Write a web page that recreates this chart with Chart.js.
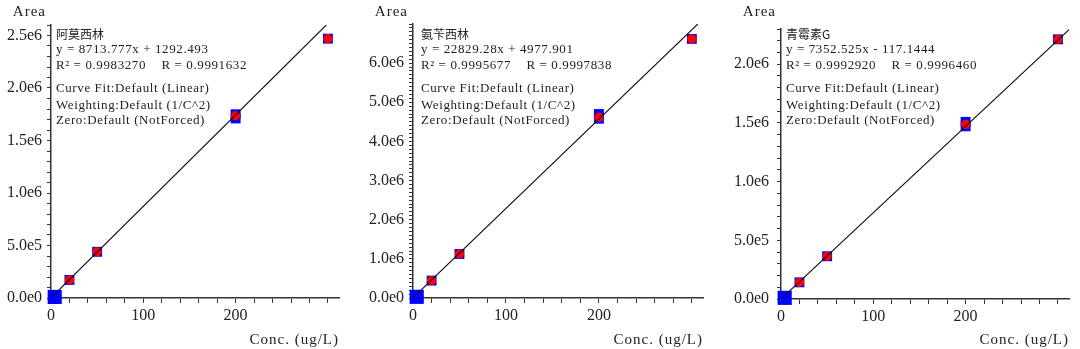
<!DOCTYPE html>
<html lang="zh">
<head>
<meta charset="UTF-8">
<title>标准曲线</title>
<style>
  html, body { margin: 0; padding: 0; background: #fff; }
  .row { display: flex; width: 1080px; height: 349px; }
  .cell { width: 360px; height: 349px; }
  canvas { display: block; }
</style>
</head>
<body>
<div class="row">
  <div class="cell"><canvas id="c1" width="360" height="349"></canvas></div>
  <div class="cell"><canvas id="c2" width="360" height="349"></canvas></div>
  <div class="cell"><canvas id="c3" width="360" height="349"></canvas></div>
</div>
<script src="https://cdn.jsdelivr.net/npm/chart.js@4/dist/chart.umd.min.js"></script>
<script>
// standard levels, ug/L (two injections at 200)
const blueConc = [20, 50, 200, 200, 300];
const redConc = [20, 50, 200, 300];
const blankConc = [4];

// peak areas
const amoxBlue = [1.72e5, 4.40e5, 1.75e6, 1.71e6, 2.47e6];
const amoxRed = [1.72e5, 4.40e5, 1.735e6, 2.47e6];
const amoxBlank = [1.0e4];
const amoxFit = [8713.777, 1292.493];

const ampiBlue = [4.45e5, 1.125e6, 4.70e6, 4.58e6, 6.62e6];
const ampiRed = [4.45e5, 1.125e6, 4.62e6, 6.62e6];
const ampiBlank = [3.0e4];
const ampiFit = [22829.28, 4977.901];

const penBlue = [1.42e5, 3.64e5, 1.509e6, 1.471e6, 2.212e6];
const penRed = [1.42e5, 3.64e5, 1.488e6, 2.212e6];
const penBlank = [1.0e4];
const penFit = [7352.525, -117.1444];

// x labels stop before the last major tick
const xLabels = [0, 100, 200];
const xMax = 312;
const xTickStep = 20;
const yTickStep = 1e5;

const panels = [
  { id: 'c1', name: '阿莫西林', eq: 'y = 8713.777x + 1292.493', r: 'R² = 0.9983270    R = 0.9991632',
    fit: amoxFit, blue: amoxBlue, red: amoxRed, blank: amoxBlank,
    yMax: 2.6e6, yLabelStep: 5e5, left: 51, right: 339, top: 25, bottom: 298, textDx: 5, yPad: 5 },
  { id: 'c2', name: '氨苄西林', eq: 'y = 22829.28x + 4977.901', r: 'R² = 0.9995677    R = 0.9997838',
    fit: ampiFit, blue: ampiBlue, red: ampiRed, blank: ampiBlank,
    yMax: 7.0e6, yLabelStep: 1e6, left: 53, right: 343, top: 24, bottom: 298, textDx: 8, yPad: 5 },
  { id: 'c3', name: '青霉素G', eq: 'y = 7352.525x - 117.1444', r: 'R² = 0.9992920    R = 0.9996460',
    fit: penFit, blue: penBlue, red: penRed, blank: penBlank,
    yMax: 2.3e6, yLabelStep: 5e5, left: 61, right: 349, top: 29, bottom: 299, textDx: 5, yPad: 8 }
];

const fitNotes = ['Curve Fit:Default (Linear)', 'Weighting:Default (1/C^2)', 'Zero:Default (NotForced)'];

const toPoints = (xs, ys) => xs.map((x, i) => ({ x: x, y: ys[i] }));
const fmtExp = v => v.toExponential(1).replace('+', '');
const onStep = (v, step) => Math.abs(v / step - Math.round(v / step)) < 1e-6;

// axis names and the fit summary in the top-left corner
const notesPlugin = {
  id: 'calNotes',
  afterDraw(chart, args, opts) {
    const p = opts.panel;
    const { ctx, chartArea } = chart;
    ctx.save();
    ctx.fillStyle = '#222';
    ctx.textBaseline = 'middle';
    ctx.letterSpacing = '1px';
    ctx.font = '15px "Liberation Serif"';
    ctx.textAlign = 'right';
    ctx.fillText('Area', chartArea.left - 5, 12);
    ctx.fillText('Conc. (ug/L)', chartArea.right, 340);

    const x0 = chartArea.left + p.textDx;
    ctx.textAlign = 'left';
    ctx.letterSpacing = '0px';
    ctx.font = '12px "Noto Sans CJK SC"';
    ctx.fillText(p.name, x0, 34);
    ctx.font = '13px "Liberation Serif"';
    ctx.letterSpacing = '0.6px';
    ctx.fillText(p.eq, x0, 50);
    ctx.fillText(p.r, x0, 66);
    ctx.fillText(fitNotes[0], x0, 89);
    ctx.fillText(fitNotes[1], x0, 106);
    ctx.fillText(fitNotes[2], x0, 121);
    ctx.restore();
  }
};

panels.forEach(p => {
  const [m, b] = p.fit;
  // regression line runs from x = 0 up to the top of the y axis
  const fitLine = [{ x: 0, y: b }, { x: (p.yMax - b) / m, y: p.yMax }];

  new Chart(document.getElementById(p.id), {
    type: 'scatter',
    data: {
      datasets: [
        { data: fitLine, showLine: true, borderColor: '#111', borderWidth: 1.1, pointRadius: 0 },
        { data: toPoints(redConc, p.red), pointStyle: 'circle', pointRadius: 4.6,
          backgroundColor: '#ff0000', borderColor: '#ff0000', borderWidth: 0, clip: false },
        { data: toPoints(blueConc, p.blue), pointStyle: 'rect', pointRadius: 7,
          backgroundColor: '#0000ff', borderColor: '#0000ff', borderWidth: 0, clip: false },
        { data: toPoints(blankConc, p.blank), pointStyle: 'rect', pointRadius: 10,
          backgroundColor: '#0000ff', borderColor: '#0000ff', borderWidth: 0, clip: false }
      ]
    },
    options: {
      responsive: false,
      animation: false,
      events: [],
      layout: { padding: { top: p.top, right: 360 - p.right, left: 0, bottom: 0 } },
      plugins: {
        legend: { display: false },
        tooltip: { enabled: false },
        calNotes: { panel: p }
      },
      scales: {
        x: {
          type: 'linear',
          position: 'bottom',
          min: 0,
          max: xMax,
          border: { color: '#333', width: 1.5 },
          grid: { drawOnChartArea: false, drawTicks: true, tickLength: 5, color: '#333' },
          ticks: {
            stepSize: xTickStep,
            autoSkip: false,
            includeBounds: false,
            maxRotation: 0,
            padding: 3,
            color: '#222',
            font: { family: '"Liberation Serif"', size: 16 },
            callback: v => xLabels.includes(v) ? String(v) : ''
          },
          afterFit: s => { s.height = 349 - p.bottom; }
        },
        y: {
          type: 'linear',
          min: 0,
          max: p.yMax,
          border: { color: '#333', width: 1.5 },
          grid: { drawOnChartArea: false, drawTicks: true, tickLength: 4, color: '#333' },
          ticks: {
            stepSize: yTickStep,
            maxTicksLimit: 1000,
            autoSkip: false,
            padding: p.yPad,
            color: '#222',
            font: { family: '"Liberation Serif"', size: 16 },
            // the top of the axis carries no label
            callback: v => (v < p.yMax && onStep(v, p.yLabelStep)) ? fmtExp(v) : ''
          },
          afterFit: s => { s.width = p.left; }
        }
      }
    },
    plugins: [notesPlugin]
  });
});
</script>
</body>
</html>
